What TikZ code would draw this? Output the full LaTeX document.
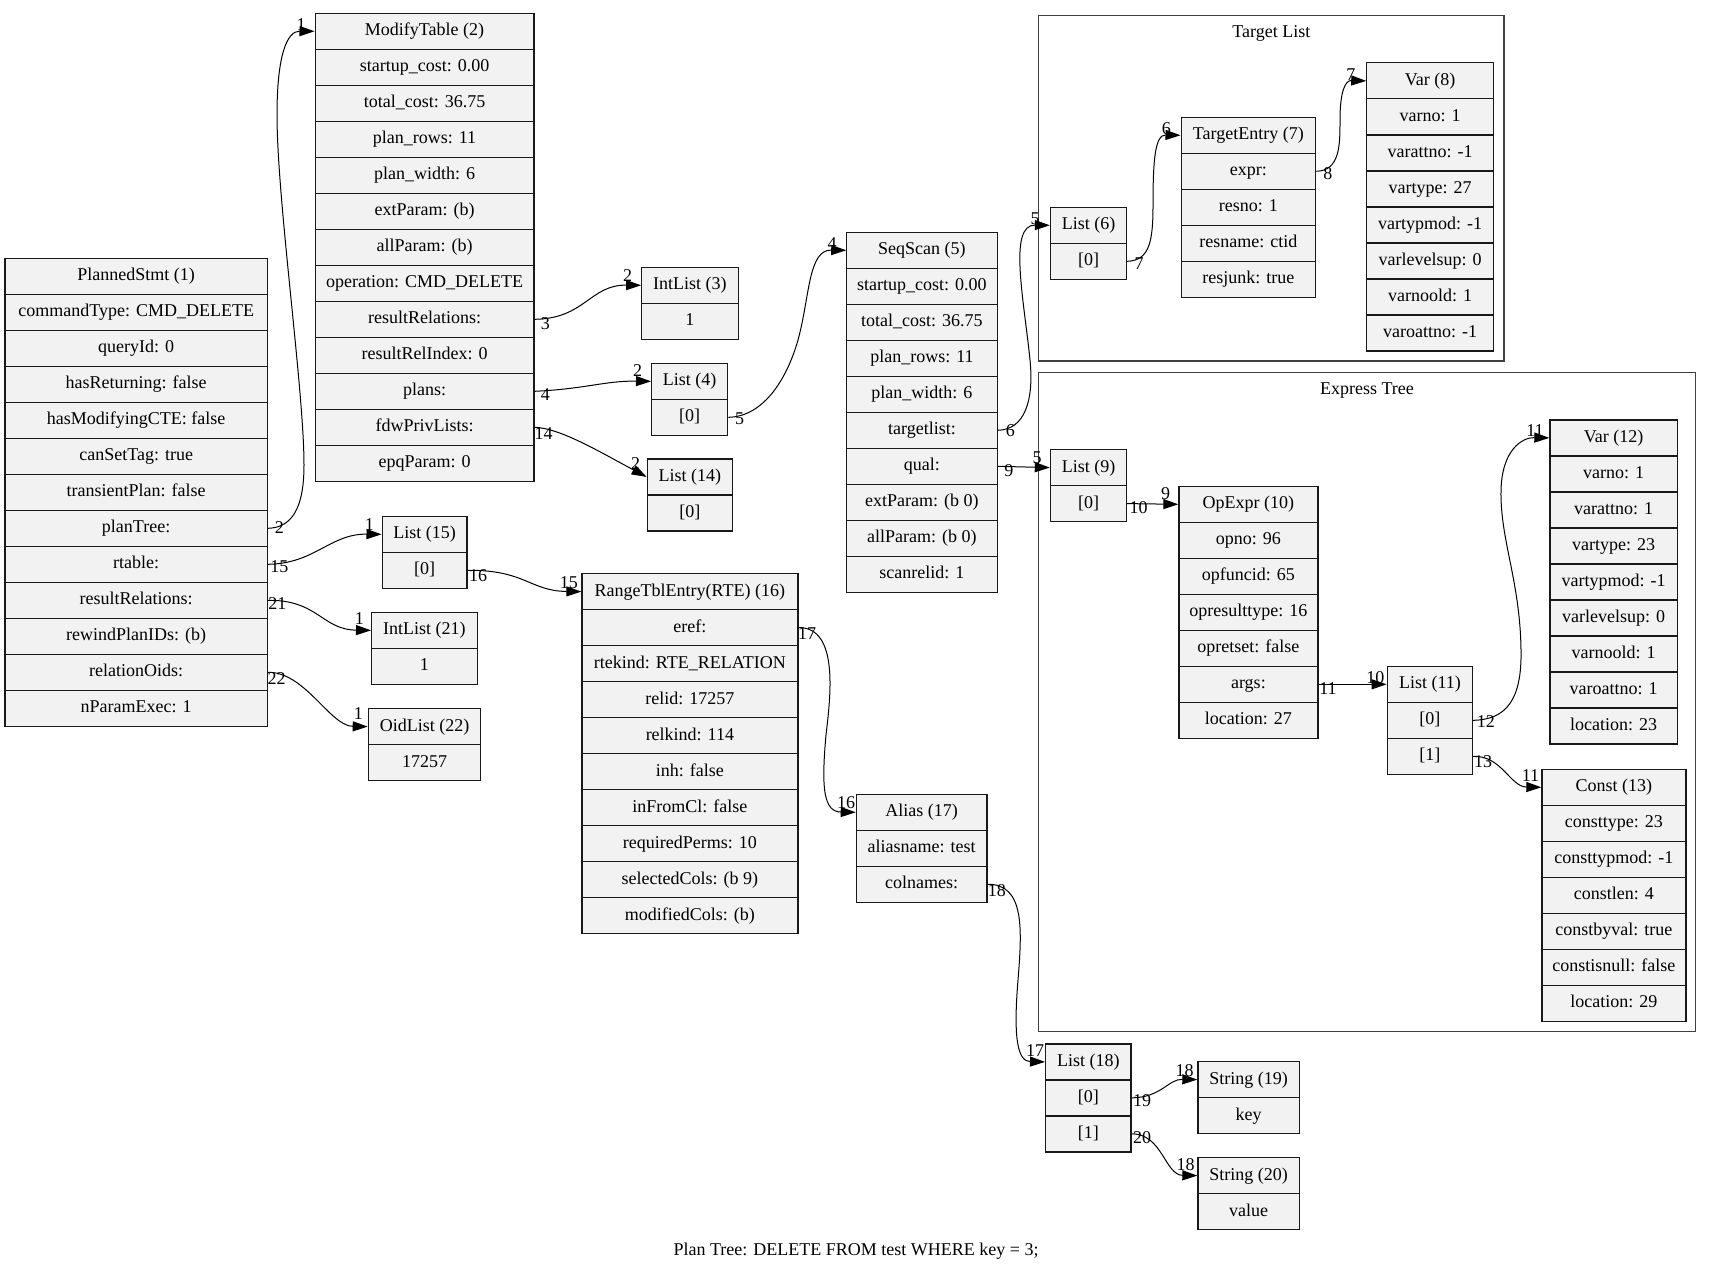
\documentclass[tikz,border=0pt]{standalone}
\usepackage{fontspec}
\setmainfont{Liberation Serif}
\usetikzlibrary{arrows.meta}
\definecolor{cellfill}{HTML}{F2F2F2}
\tikzset{
  cell/.style={draw=black!90, line width=1.2pt, fill=cellfill, inner sep=0pt,
    minimum height=36pt, font=\fontsize{18}{20}\selectfont,
    text height=12pt, text depth=3pt},
  edge/.style={draw=black, line width=1pt, -{Triangle[length=15pt,width=10pt]}},
  lbl/.style={inner sep=0pt, font=\fontsize{18}{20}\selectfont},
  cluster/.style={draw=black!75, line width=1.5pt},
}
\newcommand\rec[5]{%
  \foreach \t [count=\i from 0] in {#5} {%
    \node[cell, minimum width=#4pt, anchor=north west] (#1-\i) at (#2, {#3+36*\i}) {\t};
  }%
}
\begin{document}
\begin{tikzpicture}[x=1pt, y=-1pt]
\useasboundingbox (0,0) rectangle (1712,1271);
% clusters
\draw[cluster] (1038.4,15.7) rectangle (1504.1,361);
\node[lbl, anchor=base] (tl) at (1271.3,38) {Target List};
\draw[cluster] (1038.4,372.3) rectangle (1695.7,1031.3);
\node[lbl, anchor=base] (et) at (1367,394) {Express Tree};
% records
\rec{n1}{4.4}{257.7}{262.3}{PlannedStmt (1),commandType: CMD\_DELETE,queryId: 0,hasReturning: false,hasModifyingCTE: false,canSetTag: true,transientPlan: false,planTree:,rtable:,resultRelations:,rewindPlanIDs: (b),relationOids:,nParamExec: 1}
\rec{n2}{314.5}{12.7}{218.9}{ModifyTable (2),startup\_cost: 0.00,total\_cost: 36.75,plan\_rows: 11,plan\_width: 6,extParam: (b),allParam: (b),operation: CMD\_DELETE,resultRelations:,resultRelIndex: 0,plans:,fdwPrivLists:,epqParam: 0}
\rec{n3}{641.1}{266.7}{96.4}{IntList (3),1}
\rec{n4}{651}{362.7}{76.2}{List (4),{[0]}}
\rec{n14}{646.6}{458.3}{85.4}{List (14),{[0]}}
\rec{n15}{381.5}{515.7}{84.8}{List (15),{[0]}}
\rec{n21}{371}{611.7}{105.5}{IntList (21),1}
\rec{n22}{367.7}{708}{112.4}{OidList (22),17257}
\rec{n16}{581.3}{573}{216}{RangeTblEntry(RTE) (16),eref:,rtekind: RTE\_RELATION,relid: 17257,relkind: 114,inh: false,inFromCl: false,requiredPerms: 10,selectedCols: (b 9),modifiedCols: (b)}
\rec{n17}{855.7}{793.7}{130.6}{Alias (17),aliasname: test,colnames:}
\rec{n18}{1045}{1043.3}{85.4}{List (18),{[0]},{[1]}}
\rec{n19}{1197.3}{1061}{101.4}{String (19),key}
\rec{n20}{1197.3}{1157}{101.4}{String (20),value}
\rec{n5}{846.2}{231.7}{150.3}{SeqScan (5),startup\_cost: 0.00,total\_cost: 36.75,plan\_rows: 11,plan\_width: 6,targetlist:,qual:,extParam: (b 0),allParam: (b 0),scanrelid: 1}
\rec{n6}{1049.8}{206.7}{76.2}{List (6),{[0]}}
\rec{n7}{1180.5}{116.7}{134.6}{TargetEntry (7),expr:,resno: 1,resname: ctid,resjunk: true}
\rec{n8}{1366.2}{62.3}{126.6}{Var (8),varno: 1,varattno: -1,vartype: 27,vartypmod: -1,varlevelsup: 0,varnoold: 1,varoattno: -1}
\rec{n9}{1049.8}{449}{76.2}{List (9),{[0]}}
\rec{n10}{1178.3}{485.7}{139}{OpExpr (10),opno: 96,opfuncid: 65,opresulttype: 16,opretset: false,args:,location: 27}
\rec{n11}{1386.6}{665.7}{85.4}{List (11),{[0]},{[1]}}
\rec{n12}{1549.3}{419.3}{127.4}{Var (12),varno: 1,varattno: 1,vartype: 23,vartypmod: -1,varlevelsup: 0,varnoold: 1,varoattno: 1,location: 23}
\rec{n13}{1541.3}{768.7}{144.1}{Const (13),consttype: 23,consttypmod: -1,constlen: 4,constbyval: true,constisnull: false,location: 29}
% edges
\draw[edge] (n1-7.east) .. controls (292,527.7) and (304,508) .. (304,465) .. controls (304,390) and (277,200) .. (277,115) .. controls (277,55) and (287,31) .. (n2-0.west);
\draw[edge] (n1-8.east) .. controls (315,563.7) and (330,533.7) .. (n15-0.west);
\draw[edge] (n1-9.east) .. controls (318,599.7) and (322,629.7) .. (n21-0.west);
\draw[edge] (n1-11.east) .. controls (305,671.7) and (330,726) .. (n22-0.west);
\draw[edge] (n2-8.east) .. controls (585,318.7) and (590,284.7) .. (n3-0.west);
\draw[edge] (n2-10.east) .. controls (585,389) and (605,380.7) .. (n4-0.west);
\draw[edge] (n2-11.east) .. controls (560,428) and (600,452) .. (n14-0.west);
\draw[edge] (n4-1.east) .. controls (762,416.7) and (786,382) .. (798,340) .. controls (810,296) and (808,249.7) .. (n5-0.west);
\draw[edge] (n15-1.east) .. controls (525,569.7) and (530,591) .. (n16-0.west);
\draw[edge] (n16-1.east) .. controls (840,627) and (830,700) .. (826,735) .. controls (821,790) and (824,811.7) .. (n17-0.west);
\draw[edge] (n17-2.east) .. controls (1025,883.7) and (1022,930) .. (1018,980) .. controls (1013,1040) and (1018,1061.3) .. (n18-0.west);
\draw[edge] (n18-1.east) .. controls (1162,1097.3) and (1168,1079) .. (n19-0.west);
\draw[edge] (n18-2.east) .. controls (1162,1133.3) and (1165,1175) .. (n20-0.west);
\draw[edge] (n5-5.east) .. controls (1025,429.7) and (1034,400) .. (1030,360) .. controls (1024,300) and (1008,224.7) .. (n6-0.west);
\draw[edge] (n5-6.east) -- (n9-0.west);
\draw[edge] (n6-1.east) .. controls (1150,260.7) and (1153,240) .. (1153,205) .. controls (1153,160) and (1155,134.7) .. (n7-0.west);
\draw[edge] (n7-1.east) .. controls (1340,170.7) and (1340,145) .. (1340,120) .. controls (1340,92) and (1345,80.3) .. (n8-0.west);
\draw[edge] (n9-1.east) -- (n10-0.west);
\draw[edge] (n10-5.east) -- (n11-0.west);
\draw[edge] (n11-1.east) .. controls (1506,719.7) and (1522,700) .. (1521,650) .. controls (1520,580) and (1500,540) .. (1501,490) .. controls (1502,450) and (1522,437.3) .. (n12-0.west);
\draw[edge] (n11-2.east) .. controls (1502,755.7) and (1510,786.7) .. (n13-0.west);
% edge labels
\node[lbl] (ta) at (279.3,527.3) {2};   \node[lbl] (ha) at (301,25) {1};
\node[lbl] (tb) at (279.3,566.7) {15};  \node[lbl] (hb) at (369.3,525) {1};
\node[lbl] (tc) at (277.3,604) {21};    \node[lbl] (hc) at (359.4,619) {1};
\node[lbl] (td) at (276.5,679) {22};    \node[lbl] (hd) at (358.3,714) {1};
\node[lbl] (te) at (545.4,323.3) {3};   \node[lbl] (he) at (627.6,276) {2};
\node[lbl] (tf) at (545.4,395) {4};     \node[lbl] (hf) at (637.5,370.7) {2};
\node[lbl] (tg) at (543.6,434) {14};    \node[lbl] (hg) at (635.7,464) {2};
\node[lbl] (th) at (739.6,418.3) {5};   \node[lbl] (hh) at (832,243.3) {4};
\node[lbl] (ti) at (478,575.7) {16};    \node[lbl] (hi) at (568.8,583) {15};
\node[lbl] (tj) at (807.1,633.3) {17};  \node[lbl] (hj) at (846.2,802.3) {16};
\node[lbl] (tk) at (996.8,890.3) {18};  \node[lbl] (hk) at (1035.2,1050.3) {17};
\node[lbl] (tl2) at (1142,1100.5) {19}; \node[lbl] (hl) at (1184.5,1070.7) {18};
\node[lbl] (tm) at (1142,1138) {20};    \node[lbl] (hm) at (1185.6,1164.7) {18};
\node[lbl] (tn) at (1010.3,430.7) {6};  \node[lbl] (hn) at (1035.2,218.3) {5};
\node[lbl] (to) at (1008.9,470.7) {9};  \node[lbl] (ho) at (1037,457.3) {5};
\node[lbl] (tp) at (1139,263.3) {7};    \node[lbl] (hp) at (1166.3,128.3) {6};
\node[lbl] (tq) at (1327.9,173.3) {8};  \node[lbl] (hq) at (1350.9,75) {7};
\node[lbl] (tr) at (1138.7,507.7) {10}; \node[lbl] (hr) at (1165.5,494) {9};
\node[lbl] (ts) at (1327.9,689) {11};   \node[lbl] (hs) at (1375.3,677.3) {10};
\node[lbl] (tt) at (1485.9,721.3) {12}; \node[lbl] (ht) at (1535,430.7) {11};
\node[lbl] (tu) at (1483,761.3) {13};   \node[lbl] (hu) at (1530.4,775.7) {11};
% caption
\node[lbl, anchor=base] (cap) at (856,1255) {Plan Tree: DELETE FROM test WHERE key = 3;};
\end{tikzpicture}
\end{document}
